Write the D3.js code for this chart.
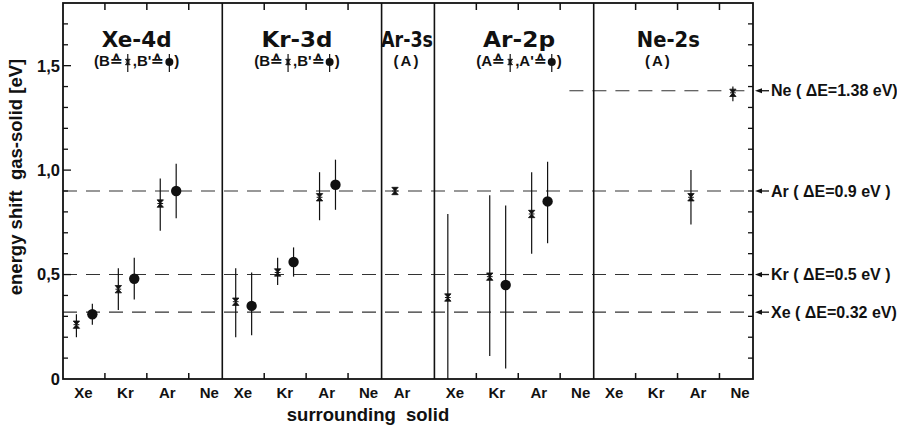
<!DOCTYPE html>
<html>
<head>
<meta charset="utf-8">
<script src="https://cdn.jsdelivr.net/npm/d3@7"></script>
<style>
  body { margin: 0; background: #fff; }
  svg { display: block; }
  text { font-family: "Liberation Sans", Arial, sans-serif; font-weight: bold; fill: #111; }
  text.title { font-family: "DejaVu Sans", sans-serif; }
</style>
</head>
<body>
<script>
// ---- data ---------------------------------------------------------------
// core levels, one panel each
const panelNames = ["Xe-4d", "Kr-3d", "Ar-3s", "Ar-2p", "Ne-2s"];
// series keys shown under each title (first = star, second = dot)
const panelKeys = [["B", "B'"], ["B", "B'"], ["A"], ["A", "A'"], ["A"]];
const solidNames = ["Xe", "Kr", "Ar", "Ne"];
const panelSolids = [solidNames, solidNames, ["Ar"], solidNames, solidNames];

// star series (B resp. A): [panel, surrounding solid, shift eV, low, high]
const starShift = [
  ["Xe-4d", "Xe", 0.26, 0.20, 0.31],
  ["Xe-4d", "Kr", 0.43, 0.33, 0.53],
  ["Xe-4d", "Ar", 0.84, 0.71, 0.96],
  ["Kr-3d", "Xe", 0.37, 0.20, 0.53],
  ["Kr-3d", "Kr", 0.51, 0.45, 0.58],
  ["Kr-3d", "Ar", 0.87, 0.76, 0.99],
  ["Ar-3s", "Ar", 0.90, 0.90, 0.90],
  ["Ar-2p", "Xe", 0.39, 0.00, 0.79],
  ["Ar-2p", "Kr", 0.49, 0.11, 0.88],
  ["Ar-2p", "Ar", 0.79, 0.60, 0.99],
  ["Ne-2s", "Ar", 0.87, 0.74, 1.00],
  ["Ne-2s", "Ne", 1.37, 1.33, 1.40]
];
// dot series (B' resp. A')
const dotShift = [
  ["Xe-4d", "Xe", 0.31, 0.26, 0.36],
  ["Xe-4d", "Kr", 0.48, 0.38, 0.58],
  ["Xe-4d", "Ar", 0.90, 0.77, 1.03],
  ["Kr-3d", "Xe", 0.35, 0.21, 0.51],
  ["Kr-3d", "Kr", 0.56, 0.49, 0.63],
  ["Kr-3d", "Ar", 0.93, 0.81, 1.05],
  ["Ar-2p", "Kr", 0.45, 0.05, 0.83],
  ["Ar-2p", "Ar", 0.85, 0.65, 1.04]
];

// reference levels (free-atom values)
const levelNames = ["Ne", "Ar", "Kr", "Xe"];
const levelDeltaE = [1.38, 0.9, 0.5, 0.32];
const levelLabels = ["Ne ( \u0394E=1.38 eV)", "Ar ( \u0394E=0.9 eV )", "Kr ( \u0394E=0.5 eV )", "Xe ( \u0394E=0.32 eV)"];

const yTickValues = [0, 0.5, 1.0, 1.5];
const yTickLabels = ["0", "0,5", "1,0", "1,5"];
const yMinorTicks = d3.range(1, 18).map(i => i / 10);

// ---- layout -------------------------------------------------------------
const W = 897, H = 429;
const plot = { left: 63, right: 753, top: 3, bottom: 379 };
const panelUnits = [3.8, 3.8, 1.26, 3.8, 3.8];   // horizontal extent of each panel
const titleWidths = [70, 71, 52, 72, 63];        // set width of each panel title
const titleShift = [-6, -5, -1, 5, -5];
const slotCenter = 0.49;                         // category position inside its slot
const starOffset = -0.17, dotOffset = 0.21;
// where each dashed level line begins: [panel index, unit inside panel]
const levelStart = [[3, 3.22], [0, 0], [0, 0], [0, 0]];

const panelStart = [];
panelUnits.reduce((acc, u, i) => { panelStart[i] = acc; return acc + u; }, 0);
const totalUnits = d3.sum(panelUnits);

const x = d3.scaleLinear().domain([0, totalUnits]).range([plot.left, plot.right]);
const y = d3.scaleLinear().domain([0, 1.8]).range([plot.bottom, plot.top]);

const px = (pi, u) => x(panelStart[pi] + u);
const solidX = (panel, solid) => {
  const pi = panelNames.indexOf(panel);
  return panelStart[pi] + panelSolids[pi].indexOf(solid) + slotCenter;
};

const svg = d3.select("body").append("svg").attr("width", W).attr("height", H);

// ---- dashed reference levels -------------------------------------------
const levels = svg.append("g");
levelDeltaE.forEach((v, i) => {
  const [pi, u] = levelStart[i];
  levels.append("line")
    .attr("x1", px(pi, u)).attr("x2", plot.right)
    .attr("y1", y(v)).attr("y2", y(v))
    .attr("stroke", "#333").attr("stroke-width", 1.1)
    .attr("stroke-dasharray", "14,9");
});

// ---- frame, panel dividers and ticks -----------------------------------
const frame = svg.append("g").attr("stroke", "#111").attr("fill", "none");
frame.append("rect")
  .attr("x", plot.left).attr("y", plot.top)
  .attr("width", plot.right - plot.left).attr("height", plot.bottom - plot.top)
  .attr("stroke-width", 1.8);
panelNames.slice(1).forEach((_, i) => {
  const xx = px(i + 1, 0);
  frame.append("line").attr("x1", xx).attr("x2", xx)
    .attr("y1", plot.top).attr("y2", plot.bottom).attr("stroke-width", 1.6);
});
// category boundary ticks on the top and bottom edges
panelSolids.forEach((sol, pi) => {
  for (let k = 1; k < sol.length; k++) {
    const xx = px(pi, k);
    frame.append("line").attr("x1", xx).attr("x2", xx)
      .attr("y1", plot.top).attr("y2", plot.top + 7).attr("stroke-width", 1.5);
    frame.append("line").attr("x1", xx).attr("x2", xx)
      .attr("y1", plot.bottom).attr("y2", plot.bottom - 6).attr("stroke-width", 1.5);
  }
});
// y ticks, both sides, pointing inward
yMinorTicks.forEach(v => {
  const major = yTickValues.some(t => Math.abs(t - v) < 1e-9);
  const len = major ? 8 : 5;
  frame.append("line").attr("x1", plot.left).attr("x2", plot.left + len)
    .attr("y1", y(v)).attr("y2", y(v)).attr("stroke-width", 1.3);
  frame.append("line").attr("x1", plot.right).attr("x2", plot.right - 5)
    .attr("y1", y(v)).attr("y2", y(v)).attr("stroke-width", 1.3);
});

// y tick labels
svg.append("g").selectAll("text").data(yTickValues).join("text")
  .attr("x", plot.left - 3).attr("y", d => y(d)).attr("dy", "0.36em")
  .attr("text-anchor", "end").attr("font-size", 16.5)
  .text((d, i) => yTickLabels[i]);

// y axis title
svg.append("text")
  .attr("transform", `translate(22,${177}) rotate(-90)`)
  .attr("text-anchor", "middle").attr("font-size", 18.5)
  .attr("xml:space", "preserve")
  .text("energy shift  gas-solid [eV]");

// x category labels
panelSolids.forEach((sol, pi) => {
  sol.forEach((s, k) => {
    svg.append("text")
      .attr("x", x(solidX(panelNames[pi], s))).attr("y", 398)
      .attr("text-anchor", "middle").attr("font-size", 15)
      .text(s);
  });
});
svg.append("text")
  .attr("x", 368).attr("y", 421)
  .attr("text-anchor", "middle").attr("font-size", 18.5)
  .attr("xml:space", "preserve")
  .text("surrounding  solid");

// ---- markers -----------------------------------------------------------
function drawStar(g, cx, cy, s) {
  g.append("path")
    .attr("d", `M${cx - s},${cy - s * 1.15}L${cx + s},${cy - s * 1.15}L${cx},${cy}Z` +
               `M${cx - s},${cy + s * 1.15}L${cx + s},${cy + s * 1.15}L${cx},${cy}Z`)
    .attr("fill", "#111").attr("stroke", "#111").attr("stroke-width", 0.8);
  g.append("line").attr("x1", cx - s * 0.9).attr("x2", cx + s * 0.9)
    .attr("y1", cy).attr("y2", cy).attr("stroke", "#111").attr("stroke-width", 1);
}
function drawDot(g, cx, cy, r) {
  g.append("circle").attr("cx", cx).attr("cy", cy).attr("r", r).attr("fill", "#111");
}

const marks = svg.append("g");
function errBar(cx, lo, hi) {
  if (hi - lo <= 0) return;
  marks.append("line").attr("x1", cx).attr("x2", cx)
    .attr("y1", y(hi)).attr("y2", y(lo))
    .attr("stroke", "#111").attr("stroke-width", 1.2);
}
starShift.forEach(([p, s, v, lo, hi]) => {
  const cx = x(solidX(p, s) + starOffset);
  errBar(cx, lo, hi);
  drawStar(marks, cx, y(v), 3.2);
});
dotShift.forEach(([p, s, v, lo, hi]) => {
  const cx = x(solidX(p, s) + dotOffset);
  errBar(cx, lo, hi);
  drawDot(marks, cx, y(v), 5.2);
});

// ---- panel titles and series keys --------------------------------------
panelNames.forEach((name, pi) => {
  const cx = px(pi, panelUnits[pi] / 2) + titleShift[pi];
  svg.append("text").attr("class", "title")
    .attr("x", cx).attr("y", 47)
    .attr("text-anchor", "middle").attr("font-size", 21)
    .attr("textLength", titleWidths[pi]).attr("lengthAdjust", "spacingAndGlyphs")
    .text(name);

  const keys = panelKeys[pi];
  const g = svg.append("g");
  const base = 66, fs = 15;
  if (keys.length === 1) {
    g.append("text").attr("x", cx - (pi === 4 ? 10 : 0)).attr("y", base)
      .attr("text-anchor", "middle").attr("font-size", fs)
      .attr("letter-spacing", 2)
      .text("(" + keys[0] + ")");
    return;
  }
  // "(B≙★,B'≙●)" with the two marker glyphs drawn in place
  const pieces = ["(" + keys[0] + "\u2259", "star", "," + keys[1] + "\u2259", "dot", ")"];
  let cur = 0;
  const items = [];
  pieces.forEach(pc => {
    if (pc === "star" || pc === "dot") {
      items.push({ kind: pc, x: cur + 5 });
      cur += 10;
    } else {
      const t = g.append("text").attr("x", cur).attr("y", base)
        .attr("font-size", fs).text(pc);
      cur += t.node().getComputedTextLength();
      items.push({ kind: "text", node: t });
    }
  });
  items.forEach(it => {
    if (it.kind === "star") {
      g.append("line").attr("x1", it.x).attr("x2", it.x).attr("y1", base - 12).attr("y2", base + 6)
        .attr("stroke", "#111").attr("stroke-width", 1.2);
      drawStar(g, it.x, base - 4, 2.4);
    } else if (it.kind === "dot") {
      g.append("line").attr("x1", it.x).attr("x2", it.x).attr("y1", base - 12).attr("y2", base + 6)
        .attr("stroke", "#111").attr("stroke-width", 1.2);
      drawDot(g, it.x, base - 4, 4);
    }
  });
  g.attr("transform", `translate(${cx - cur / 2},0)`);
});

// ---- level labels with arrows on the right ------------------------------
levelDeltaE.forEach((v, i) => {
  const yy = y(v);
  svg.append("line").attr("x1", 769).attr("x2", 760)
    .attr("y1", yy).attr("y2", yy).attr("stroke", "#111").attr("stroke-width", 1.3);
  svg.append("path")
    .attr("d", `M755,${yy}L762,${yy - 2.6}L762,${yy + 2.6}Z`).attr("fill", "#111");
  svg.append("text")
    .attr("x", 771).attr("y", yy).attr("dy", "0.36em")
    .attr("font-size", 16).attr("xml:space", "preserve")
    .text(levelLabels[i]);
});
</script>
</body>
</html>
